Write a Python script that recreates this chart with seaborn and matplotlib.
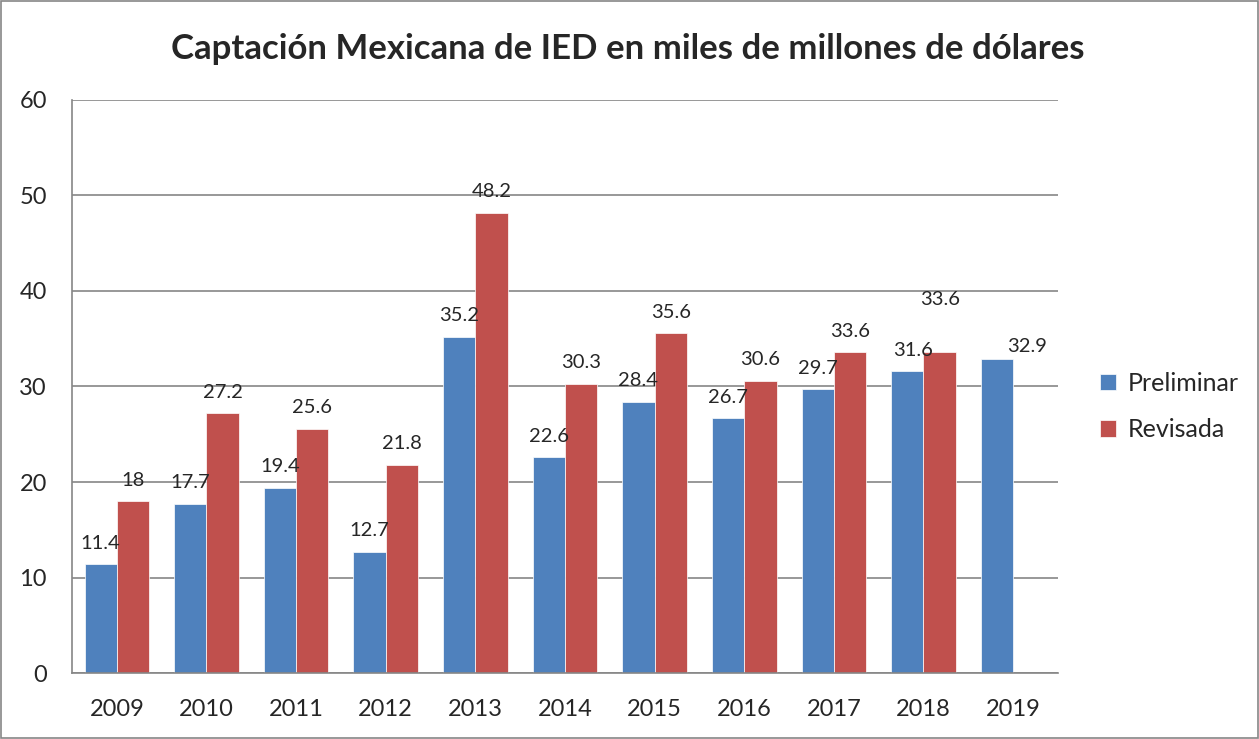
import numpy as np
import pandas as pd
import matplotlib.pyplot as plt
import seaborn as sns

years = ['2009', '2010', '2011', '2012', '2013', '2014', '2015', '2016', '2017', '2018', '2019']
preliminar = [11.4, 17.7, 19.4, 12.7, 35.2, 22.6, 28.4, 26.7, 29.7, 31.6, 32.9]
revisada = [18, 27.2, 25.6, 21.8, 48.2, 30.3, 35.6, 30.6, 33.6, 33.6, np.nan]

df = pd.DataFrame({'Año': years * 2,
                   'Valor': preliminar + revisada,
                   'Serie': ['Preliminar'] * len(years) + ['Revisada'] * len(years)})

sns.set_style('white')
plt.rcParams['font.family'] = ['Lato', 'DejaVu Sans']

fig = plt.figure(figsize=(12.59, 7.39), dpi=100)
ax = fig.add_axes([0.0572, 0.0893, 0.7831, 0.7754])

sns.barplot(data=df, x='Año', y='Valor', hue='Serie', palette=['#4F81BD', '#C0504D'],
            width=0.72, gap=0, saturation=1, ax=ax, edgecolor='white', linewidth=0.5)

ax.set_ylim(0, 60)
ax.set_yticks(range(0, 61, 10))
ax.set_xlim(-0.5, len(years) - 0.5)
ax.yaxis.grid(True, color='#868686', linewidth=1.2)
ax.set_axisbelow(True)
for s in ['top', 'right']:
    ax.spines[s].set_visible(False)
for s in ['left', 'bottom']:
    ax.spines[s].set_color('#868686')
    ax.spines[s].set_linewidth(1.2)
ax.tick_params(axis='both', length=0, labelsize=17)
ax.tick_params(axis='x', pad=19)
ax.tick_params(axis='y', pad=18)
ax.set_xlabel('')
ax.set_ylabel('')

# etiquetas de datos (algunas movidas a mano como en el original)
offsets = {('Revisada', '2018'): (0, 32), ('Preliminar', '2019'): (22, 3),
           ('Preliminar', '2018'): (4, 9)}
for cont, serie in zip(ax.containers, ['Preliminar', 'Revisada']):
    for bar, yr in zip(cont, years):
        h = bar.get_height()
        if np.isnan(h):
            continue
        dx, dy = offsets.get((serie, yr), (0, 9))
        ax.annotate(f'{h:g}', (bar.get_x() + bar.get_width() / 2, h),
                    xytext=(dx, dy), textcoords='offset points',
                    ha='center', va='bottom', fontsize=14.5)

ax.legend(loc='center left', bbox_to_anchor=(1.02, 0.465), frameon=False,
          fontsize=18, handlelength=0.65, handleheight=0.65, labelspacing=0.95,
          handletextpad=0.45)

fig.suptitle('Captación Mexicana de IED en miles de millones de dólares',
             x=0.499, y=0.955, fontsize=25, fontweight='bold')

fig.patches.append(plt.Rectangle((0.001, 0.001), 0.998, 0.998, transform=fig.transFigure,
                                 fill=False, edgecolor='#868686', linewidth=1.2))

fig.savefig('out.png', dpi=100)
